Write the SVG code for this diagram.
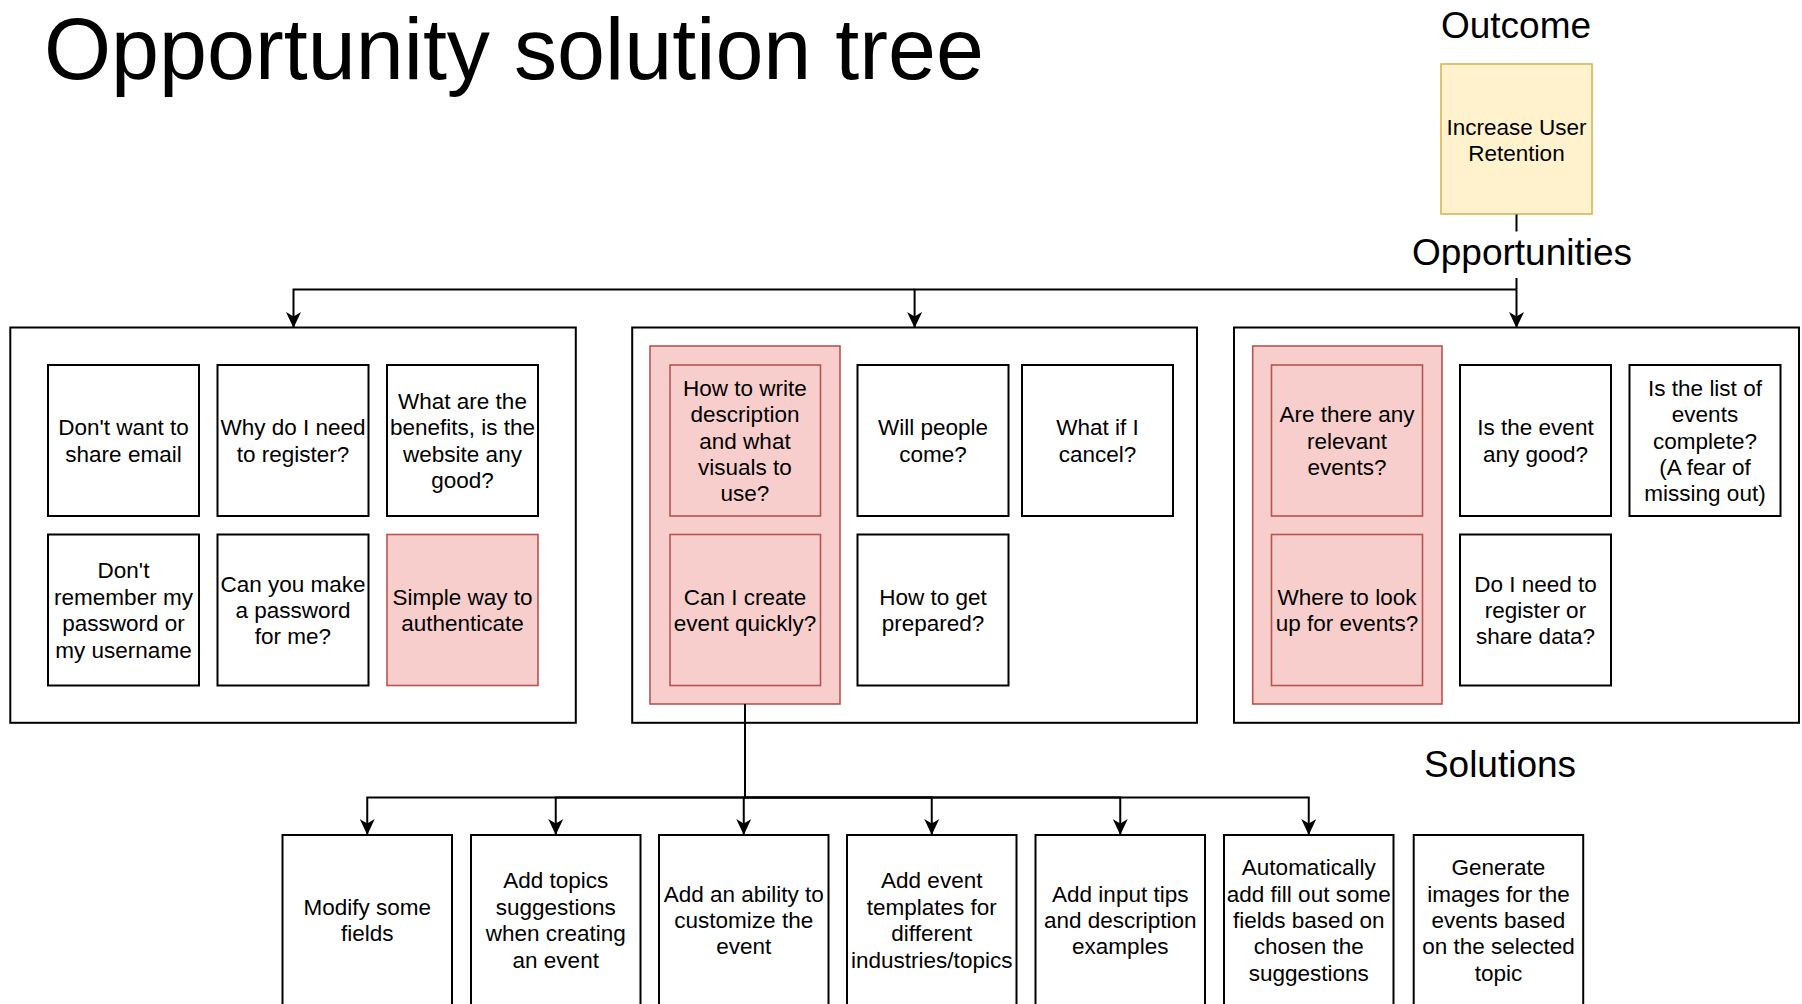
<svg xmlns="http://www.w3.org/2000/svg" width="1802" height="1004" viewBox="0 0 1802 1004">
<defs>
<style>
.t{font-family:"Liberation Sans",Arial,Helvetica,sans-serif;fill:#000;}
.n{font-size:22.5px;text-anchor:middle;}
.lbl{font-size:37px;text-anchor:middle;}
.box{fill:#fff;stroke:#000;stroke-width:2;}
.grp{fill:#fff;stroke:#000;stroke-width:2;}
.pink{fill:#f8cecc;stroke:#b85450;stroke-width:1.6;}
.yel{fill:#fff2cc;stroke:#d6b656;stroke-width:1.6;}
.edge{fill:none;stroke:#000;stroke-width:2;}
</style>
<marker id="arr" viewBox="0 0 16 15" refX="15" refY="7.5" markerWidth="16" markerHeight="15" markerUnits="userSpaceOnUse" orient="auto">
<path d="M16,7.5 L0,0 L4.5,7.5 L0,15 Z" fill="#000"/>
</marker>
</defs>
<rect width="1802" height="1004" fill="#fff"/>

<text class="t" x="44" y="79" font-size="87" textLength="940" lengthAdjust="spacingAndGlyphs">Opportunity solution tree</text>
<text class="t lbl" x="1516" y="38">Outcome</text>
<text class="t lbl" x="1522" y="265">Opportunities</text>
<text class="t lbl" x="1500" y="777">Solutions</text>

<g id="outcome">
<rect class="yel" x="1441" y="64" width="151" height="150"/>
<text class="t n" x="1516.5" y="134.8">Increase User<tspan x="1516.5" dy="26.4">Retention</tspan></text>
</g>

<g id="group1">
<rect class="grp" x="10.3" y="327.5" width="565.5" height="395.3"/>
</g>
<g id="group2">
<rect class="grp" x="632.2" y="327.5" width="564.8" height="395.3"/>
<rect class="pink" x="650" y="346" width="190" height="358"/>
</g>
<g id="group3">
<rect class="grp" x="1234" y="327.5" width="565" height="395.3"/>
<rect class="pink" x="1252.7" y="346" width="189.3" height="358"/>
</g>

<g id="o1">
<rect class="box" x="48" y="365" width="151" height="151"/>
<text class="t n" x="123.5" y="435.3">Don't want to<tspan x="123.5" dy="26.4">share email</tspan></text>
</g>
<g id="o2">
<rect class="box" x="217.5" y="365" width="151" height="151"/>
<text class="t n" x="293" y="435.3">Why do I need<tspan x="293" dy="26.4">to register?</tspan></text>
</g>
<g id="o3">
<rect class="box" x="387" y="365" width="151" height="151"/>
<text class="t n" x="462.5" y="408.9">What are the<tspan x="462.5" dy="26.4">benefits, is the</tspan><tspan x="462.5" dy="26.4">website any</tspan><tspan x="462.5" dy="26.4">good?</tspan></text>
</g>
<g id="o4">
<rect class="box" x="48" y="534.5" width="151" height="151"/>
<text class="t n" x="123.5" y="578.4">Don't<tspan x="123.5" dy="26.4">remember my</tspan><tspan x="123.5" dy="26.4">password or</tspan><tspan x="123.5" dy="26.4">my username</tspan></text>
</g>
<g id="o5">
<rect class="box" x="217.5" y="534.5" width="151" height="151"/>
<text class="t n" x="293" y="591.6">Can you make<tspan x="293" dy="26.4">a password</tspan><tspan x="293" dy="26.4">for me?</tspan></text>
</g>
<g id="o6">
<rect class="pink" x="387" y="534.5" width="151" height="151"/>
<text class="t n" x="462.5" y="604.8">Simple way to<tspan x="462.5" dy="26.4">authenticate</tspan></text>
</g>

<g id="o7">
<rect class="pink" x="670" y="365" width="150.5" height="151"/>
<text class="t n" x="745" y="395.7">How to write<tspan x="745" dy="26.4">description</tspan><tspan x="745" dy="26.4">and what</tspan><tspan x="745" dy="26.4">visuals to</tspan><tspan x="745" dy="26.4">use?</tspan></text>
</g>
<g id="o8">
<rect class="pink" x="670" y="534.5" width="150.5" height="151"/>
<text class="t n" x="745" y="604.8">Can I create<tspan x="745" dy="26.4">event quickly?</tspan></text>
</g>
<g id="o9">
<rect class="box" x="857.5" y="365" width="151" height="151"/>
<text class="t n" x="933" y="435.3">Will people<tspan x="933" dy="26.4">come?</tspan></text>
</g>
<g id="o10">
<rect class="box" x="1022" y="365" width="151" height="151"/>
<text class="t n" x="1097.5" y="435.3">What if I<tspan x="1097.5" dy="26.4">cancel?</tspan></text>
</g>
<g id="o11">
<rect class="box" x="857.5" y="534.5" width="151" height="151"/>
<text class="t n" x="933" y="604.8">How to get<tspan x="933" dy="26.4">prepared?</tspan></text>
</g>

<g id="o12">
<rect class="pink" x="1271.5" y="365" width="151" height="151"/>
<text class="t n" x="1347" y="422.1">Are there any<tspan x="1347" dy="26.4">relevant</tspan><tspan x="1347" dy="26.4">events?</tspan></text>
</g>
<g id="o13">
<rect class="pink" x="1271.5" y="534.5" width="151" height="151"/>
<text class="t n" x="1347" y="604.8">Where to look<tspan x="1347" dy="26.4">up for events?</tspan></text>
</g>
<g id="o14">
<rect class="box" x="1460" y="365" width="151" height="151"/>
<text class="t n" x="1535.5" y="435.3">Is the event<tspan x="1535.5" dy="26.4">any good?</tspan></text>
</g>
<g id="o15">
<rect class="box" x="1629.5" y="365" width="151" height="151"/>
<text class="t n" x="1705" y="395.7">Is the list of<tspan x="1705" dy="26.4">events</tspan><tspan x="1705" dy="26.4">complete?</tspan><tspan x="1705" dy="26.4">(A fear of</tspan><tspan x="1705" dy="26.4">missing out)</tspan></text>
</g>
<g id="o16">
<rect class="box" x="1460" y="534.5" width="151" height="151"/>
<text class="t n" x="1535.5" y="591.6">Do I need to<tspan x="1535.5" dy="26.4">register or</tspan><tspan x="1535.5" dy="26.4">share data?</tspan></text>
</g>

<g id="s1">
<rect class="box" x="282.5" y="835" width="169.5" height="170"/>
<text class="t n" x="367.25" y="914.8">Modify some<tspan x="367.25" dy="26.4">fields</tspan></text>
</g>
<g id="s2">
<rect class="box" x="471" y="835" width="169.5" height="170"/>
<text class="t n" x="555.75" y="888.4">Add topics<tspan x="555.75" dy="26.4">suggestions</tspan><tspan x="555.75" dy="26.4">when creating</tspan><tspan x="555.75" dy="26.4">an event</tspan></text>
</g>
<g id="s3">
<rect class="box" x="659" y="835" width="169.5" height="170"/>
<text class="t n" x="743.75" y="901.6">Add an ability to<tspan x="743.75" dy="26.4">customize the</tspan><tspan x="743.75" dy="26.4">event</tspan></text>
</g>
<g id="s4">
<rect class="box" x="847" y="835" width="169.5" height="170"/>
<text class="t n" x="931.75" y="888.4">Add event<tspan x="931.75" dy="26.4">templates for</tspan><tspan x="931.75" dy="26.4">different</tspan><tspan x="931.75" dy="26.4">industries/topics</tspan></text>
</g>
<g id="s5">
<rect class="box" x="1035.5" y="835" width="169.5" height="170"/>
<text class="t n" x="1120.25" y="901.6">Add input tips<tspan x="1120.25" dy="26.4">and description</tspan><tspan x="1120.25" dy="26.4">examples</tspan></text>
</g>
<g id="s6">
<rect class="box" x="1224" y="835" width="169.5" height="170"/>
<text class="t n" x="1308.75" y="875.2">Automatically<tspan x="1308.75" dy="26.4">add fill out some</tspan><tspan x="1308.75" dy="26.4">fields based on</tspan><tspan x="1308.75" dy="26.4">chosen the</tspan><tspan x="1308.75" dy="26.4">suggestions</tspan></text>
</g>
<g id="s7">
<rect class="box" x="1413.7" y="835" width="169.5" height="170"/>
<text class="t n" x="1498.45" y="875.2">Generate<tspan x="1498.45" dy="26.4">images for the</tspan><tspan x="1498.45" dy="26.4">events based</tspan><tspan x="1498.45" dy="26.4">on the selected</tspan><tspan x="1498.45" dy="26.4">topic</tspan></text>
</g>

<g id="connectors">
<path class="edge" d="M1516.5,214.5 V231.5 M1516.5,278 V289.5"/>
<path class="edge" marker-end="url(#arr)" d="M1516.5,289.5 V327"/>
<path class="edge" marker-end="url(#arr)" d="M1516.5,289.5 H914.6 V327"/>
<path class="edge" marker-end="url(#arr)" d="M914.6,289.5 H293.5 V327"/>
<path class="edge" d="M745,704 V797.5"/>
<path class="edge" marker-end="url(#arr)" d="M745,797.5 H367.25 V834"/>
<path class="edge" marker-end="url(#arr)" d="M745,797.5 H555.75 V834"/>
<path class="edge" marker-end="url(#arr)" d="M745,797.5 H743.75 V834"/>
<path class="edge" marker-end="url(#arr)" d="M745,797.5 H931.75 V834"/>
<path class="edge" marker-end="url(#arr)" d="M745,797.5 H1120.25 V834"/>
<path class="edge" marker-end="url(#arr)" d="M745,797.5 H1308.75 V834"/>
</g>
</svg>
